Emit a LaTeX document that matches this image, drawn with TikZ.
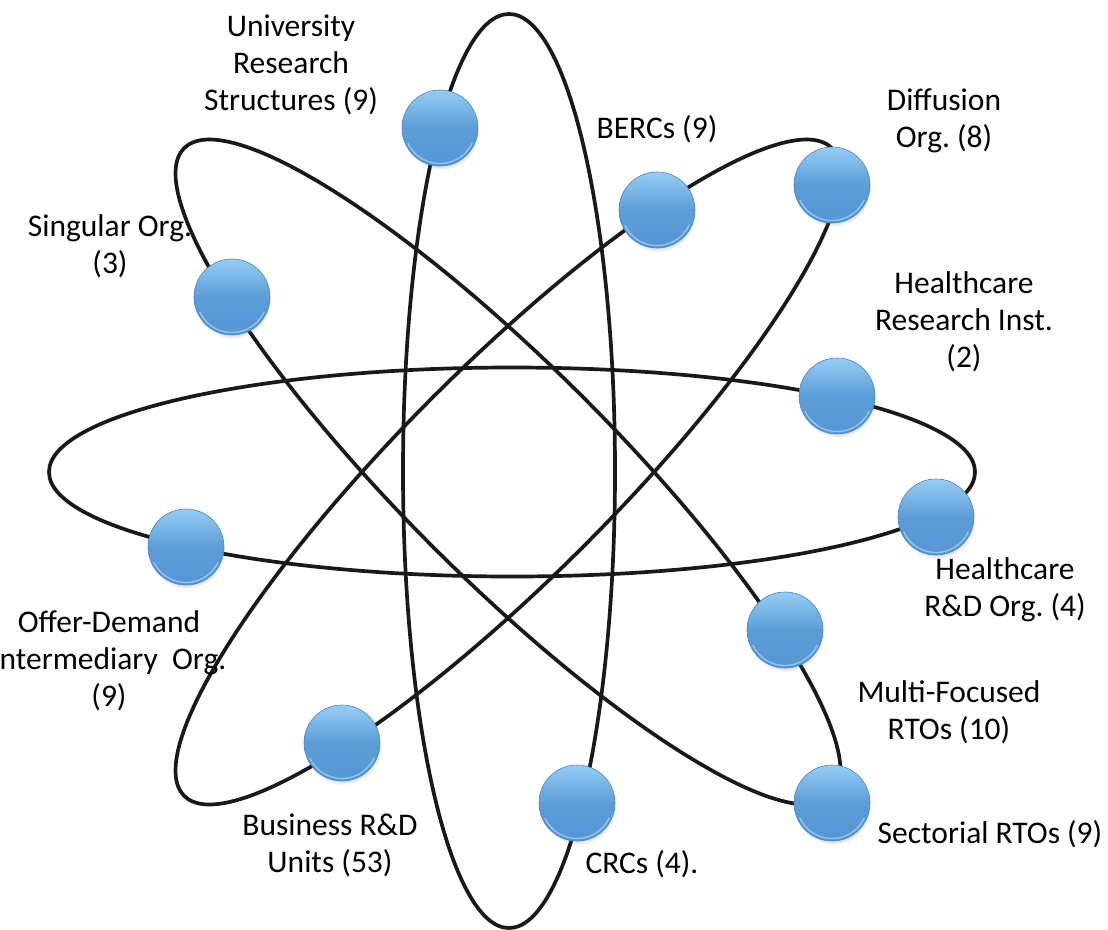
\documentclass[tikz,border=0pt]{standalone}
\usepackage{fontspec}
\setmainfont{Carlito}
\usetikzlibrary{shadows}
\definecolor{ballTop}{RGB}{150,205,245}
\definecolor{ballMid}{RGB}{92,157,215}
\definecolor{ballBot}{RGB}{86,150,212}
\definecolor{ballEdge}{RGB}{72,132,198}
\definecolor{ballRim}{RGB}{165,212,245}
\frenchspacing
\begin{document}
\begin{tikzpicture}[x=1pt,y=-1pt,
  orbit/.style={line width=3.7pt, black!90},
  ball/.style={circle, minimum size=76pt, inner sep=0pt,
    top color=ballTop, bottom color=ballBot, middle color=ballMid,
    draw=ballEdge, line width=0.6pt,
    circular drop shadow={shadow xshift=1pt, shadow yshift=-4pt, opacity=0.35, shadow scale=1.0}},
  lab/.style={font=\fontsize{31.5}{37}\selectfont, align=center, inner sep=0pt}]
\useasboundingbox (0,0) rectangle (1108,929);
% orbits
\draw[orbit] (509,471) ellipse [x radius=106pt, y radius=457pt];
\draw[orbit] (512,472) ellipse [x radius=463pt, y radius=104.5pt];
\draw[orbit, rotate around={45:(508,472)}] (508,472) ellipse [x radius=458pt, y radius=106pt];
\draw[orbit, rotate around={-45:(508,472)}] (508,472) ellipse [x radius=458pt, y radius=106pt];
% balls
\node[ball] (univ)  at (440,128) {};
\node[ball] (berc)  at (657,210) {};
\node[ball] (diff)  at (832,185) {};
\node[ball] (sing)  at (232,297) {};
\node[ball] (hri)   at (837,396) {};
\node[ball] (hrd)   at (936,517) {};
\node[ball] (offer) at (186,547) {};
\node[ball] (multi) at (785,630) {};
\node[ball] (bus)   at (342,743) {};
\node[ball] (crc)   at (577,803) {};
\node[ball] (sect)  at (832,803) {};
\foreach \n in {univ,berc,diff,sing,hri,hrd,offer,multi,bus,crc,sect}
  \draw[ballRim, line width=1.3pt, opacity=0.8] (\n.center) ++(205:35.5pt) arc[start angle=205, end angle=335, radius=35.5pt];
% labels
\node[lab] (lunivt)  at (291,65)  {University\\Research\\Structures (9)};
\node[lab] (lberc)   at (657,129) {BERCs (9)};
\node[lab] (ldiff)   at (944,121) {Diffusion\\Org. (8)};
\node[lab] (lsing)   at (110,246) {Singular Org.\\(3)};
\node[lab] (lhri)    at (964,322) {Healthcare\\Research Inst.\\(2)};
\node[lab] (lhrd)    at (1005,590) {Healthcare\\R\&D Org. (4)};
\node[lab] (lmulti)  at (949,712) {Multi-Focused\\RTOs (10)};
\node[lab] (lsect)   at (990,834) {Sectorial RTOs (9)};
\node[lab] (lcrc)    at (642,864) {CRCs (4).};
\node[lab] (lbus)    at (330,845) {Business R\&D\\Units (53)};
\node[lab] (loffer)  at (109,661) {Offer-Demand\\Intermediary\ \ Org.\\(9)};
\end{tikzpicture}
\end{document}
